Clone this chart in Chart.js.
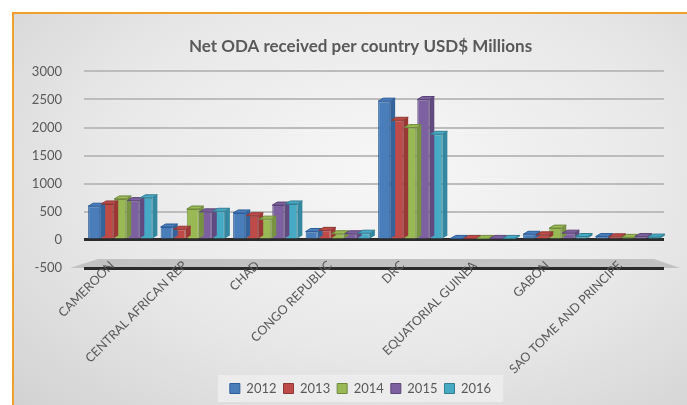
<!DOCTYPE html>
<html>
<head>
<meta charset="utf-8">
<script src="https://cdn.jsdelivr.net/npm/chart.js@4.4.1/dist/chart.umd.min.js"></script>
<style>
  html, body { margin: 0; padding: 0; background: #fff; }
  body { width: 687px; height: 405px; position: relative; overflow: hidden; }
  #frame {
    position: absolute; left: 12px; top: 12px; width: 675px; height: 393px;
    border-left: 2px solid #f0a030; border-top: 2px solid #f0a030;
    background: radial-gradient(ellipse at 55% 40%, #f7f7f7 0%, #e8e8e8 55%, #d2d2d2 100%);
    box-sizing: border-box;
  }
  #wrap { position: absolute; left: 0; top: 0; width: 673px; height: 391px; }
</style>
</head>
<body>
<div id="frame"><div id="wrap"><canvas id="odaChart"></canvas></div></div>
<script>
// Net ODA received, USD$ millions
const countries = ['CAMEROON', 'CENTRAL AFRICAN REP', 'CHAD', 'CONGO REPUBLIC', 'DRC', 'EQUATORIAL GUINEA', 'GABON', 'SAO TOME AND PRINCIPE'];
const years = ['2012', '2013', '2014', '2015', '2016'];
const oda2012 = [600, 230, 480, 150, 2470, 20, 100, 60];
const oda2013 = [640, 190, 430, 170, 2130, 15, 90, 55];
const oda2014 = [730, 550, 370, 110, 2000, 10, 210, 45];
const oda2015 = [700, 500, 620, 110, 2500, 12, 120, 60];
const oda2016 = [750, 510, 640, 120, 1880, 10, 60, 50];
const yTicks = [-500, 0, 500, 1000, 1500, 2000, 2500, 3000];

const fills = ['#4a7ebb', '#be4b48', '#98b954', '#7d60a0', '#46aac5'];
const edges = ['#2c5d98', '#8c3836', '#71893f', '#5c4776', '#357d91'];
const sides = ['#35649c', '#9a3835', '#789443', '#614a80', '#33879e'];
const series = [oda2012, oda2013, oda2014, oda2015, oda2016];

// labels are allowed to spill outside their axis box
const noLabelClip = axis => { axis._computeLabelArea = () => undefined; };

// fake 3D: side and top faces on each bar, plus the floor and the legend panel
const depth = 5;
const fake3d = {
  id: 'fake3d',
  beforeDraw(chart) {
    const ctx = chart.ctx;
    const area = chart.chartArea;
    const floorY = chart.scales.y.getPixelForValue(-500);
    ctx.save();
    // floor slab, drawn first so the axis labels sit on top of it
    ctx.fillStyle = '#c2c2c2';
    ctx.beginPath();
    ctx.moveTo(area.left - 14, floorY);
    ctx.lineTo(area.left + 14, floorY - 9);
    ctx.lineTo(area.right - 10, floorY - 9);
    ctx.lineTo(area.right + 16, floorY);
    ctx.closePath();
    ctx.fill();
    ctx.restore();

    const lg = chart.legend;
    if (!lg || !lg.legendHitBoxes || !lg.legendHitBoxes.length) return;
    const boxes = lg.legendHitBoxes;
    const x0 = Math.min(...boxes.map(b => b.left)) - 12;
    const x1 = Math.max(...boxes.map(b => b.left + b.width)) + 12;
    ctx.save();
    ctx.fillStyle = 'rgba(236,236,236,0.95)';
    ctx.fillRect(x0, boxes[0].top - 7, x1 - x0, boxes[0].height + 14);
    ctx.restore();
  },
  afterDatasetsDraw(chart) {
    const ctx = chart.ctx;
    ctx.save();
    chart.data.datasets.forEach((ds, i) => {
      const meta = chart.getDatasetMeta(i);
      meta.data.forEach(bar => {
        const r = bar.x + bar.width / 2;
        const l = bar.x - bar.width / 2;
        const top = Math.min(bar.y, bar.base);
        const bot = Math.max(bar.y, bar.base);
        ctx.fillStyle = sides[i];
        ctx.beginPath();
        ctx.moveTo(r, top);
        ctx.lineTo(r + depth, top - depth * 0.6);
        ctx.lineTo(r + depth, bot - depth * 0.6);
        ctx.lineTo(r, bot);
        ctx.closePath();
        ctx.fill();
        ctx.fillStyle = fills[i];
        ctx.beginPath();
        ctx.moveTo(l, top);
        ctx.lineTo(l + depth, top - depth * 0.6);
        ctx.lineTo(r + depth, top - depth * 0.6);
        ctx.lineTo(r, top);
        ctx.closePath();
        ctx.fill();
        ctx.strokeStyle = edges[i];
        ctx.lineWidth = 1;
        ctx.stroke();
      });
    });
    ctx.restore();
  }
};

new Chart(document.getElementById('odaChart'), {
  type: 'bar',
  data: {
    labels: countries,
    datasets: years.map((yr, i) => ({
      label: yr,
      data: series[i],
      backgroundColor: fills[i],
      borderColor: edges[i],
      borderWidth: 1,
      categoryPercentage: 0.9,
      barPercentage: 0.92
    }))
  },
  options: {
    responsive: true,
    maintainAspectRatio: false,
    animation: false,
    layout: { padding: { left: 43, right: 23, top: 0, bottom: 0 } },
    plugins: {
      title: {
        display: true,
        text: 'Net ODA received per country USD$ Millions',
        color: '#595959',
        font: { family: 'Lato', size: 17, weight: 'bold' },
        padding: { top: 22, bottom: 15 }
      },
      legend: {
        position: 'bottom',
        labels: {
          color: '#595959',
          font: { family: 'Lato', size: 13 },
          boxWidth: 10,
          boxHeight: 10,
          padding: 7
        }
      },
      tooltip: { enabled: false }
    },
    scales: {
      x: {
        grid: { display: false, drawTicks: false },
        border: { display: false },
        afterFit(axis) { axis.height = 107; noLabelClip(axis); },
        ticks: {
          color: '#595959',
          font: { family: 'Lato', size: 12.5 },
          minRotation: 45,
          maxRotation: 45,
          labelOffset: -8,
          padding: -10
        }
      },
      y: {
        min: -500,
        max: 3000,
        afterBuildTicks(axis) { axis.ticks = yTicks.map(v => ({ value: v })); },
        afterFit(axis) { axis.width = 27; noLabelClip(axis); },
        border: { display: false },
        grid: {
          color: ctx => (ctx.tick && ctx.tick.value <= 0) ? '#2b2b2b' : '#bcbcbc',
          lineWidth: ctx => (ctx.tick && ctx.tick.value <= 0) ? 3 : 2,
          drawTicks: false
        },
        ticks: {
          color: '#595959',
          font: { family: 'Lato', size: 13 },
          padding: 22,
          callback: v => String(v)
        }
      }
    }
  },
  plugins: [fake3d]
});
</script>
</body>
</html>
